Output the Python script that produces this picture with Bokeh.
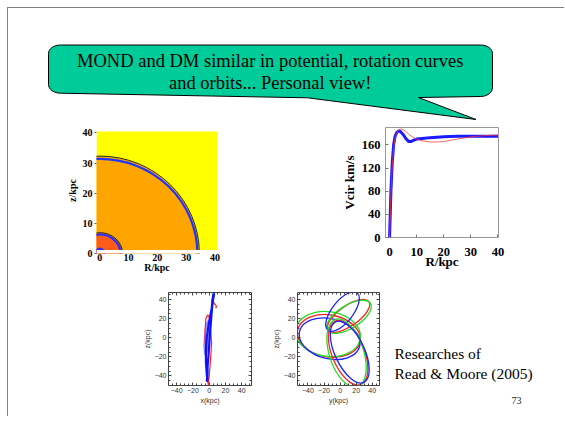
import numpy as np
from bokeh.plotting import figure
from bokeh.layouts import column, row
from bokeh.models import Spacer, LinearAxis, FixedTicker
from bokeh.embed import file_html
from bokeh.resources import INLINE
from bokeh.core.properties import value

SERIF = "Liberation Serif"
SANS = "Liberation Sans"

# ---------------- texts ----------------
title_lines = ["MOND and DM similar in potential, rotation curves",
               "and orbits... Personal view!"]
credit_lines = ["Researches of", "Read & Moore (2005)"]
page_label = "73"

# ---------------- panel 1: potential contours (R, z in kpc) ----------------
pot_ticks = [0, 10, 20, 30, 40]
pot_xlim = (-1.15, 40.9)
pot_ylim = (0.0, 41.78)              # view range (top part above the map stays white)
pot_map_top = 40.45                  # top of the coloured map
pot_floor = 1.2                      # white strip below the map
region_a = [34.5, 7.9, 1.9]          # semi-axis along R
region_b = [32.2, 6.8, 1.9]          # semi-axis along z
region_colors = ["#FFA500", "#FF5C1A", "#FF5C1A"]
blue_a = [33.9, 7.2, 1.6]
blue_b = [31.4, 6.3, 1.6]
black_a = [34.6, 7.9]
black_b = [32.3, 6.9]

# ---------------- panel 2: rotation curves ----------------
rc_xticks = [0, 10, 20, 30, 40]
rc_yticks = [0, 40, 80, 120, 160]
rc_r_blue = [0, 0.5, 1, 1.5, 2, 2.5, 3, 3.5, 4, 5, 6, 7, 8, 9, 10, 12, 15, 20, 25, 30, 35, 40]
rc_v_blue = [0, 80, 130, 160, 174, 180, 183, 184, 183, 178, 171, 166, 166, 168, 170, 171, 172.5, 174, 175, 175, 175, 175]
rc_r_red = [0, 0.5, 1, 1.5, 2, 2.5, 3, 3.5, 4, 4.5, 5, 6, 7, 8, 9, 10, 12, 15, 18, 20, 25, 30, 35, 40]
rc_v_red = [0, 75, 125, 155, 170, 178, 183, 186, 187, 187, 186, 183, 179, 175, 172, 170, 167, 165, 165, 166, 170, 174, 176, 177]

# ---------------- panel 3: x-z orbits ----------------
orb_ticks = [-40, -20, 0, 20, 40]
orb_minor = list(range(-50, 55, 5))
xz_blue = [([-2, -3, -4, -4, -3, -1, 1, 3, 4, 5, 6], [-46, -38, -25, -12, 0, 12, 22, 30, 38, 44, 48]),
           ([6, 4, 3, 2, 1, 0, -1, -2, -2, -3], [46, 36, 26, 15, 4, -8, -20, -30, -38, -46])]
xz_lightblue = [([-5, -6, -5, -3, -1, 0, -1, -3, -5], [-18, -8, 4, 14, 18, 10, -2, -14, -18])]
xz_red = [([-1, -2, -3, -4, -5, -5, -4, -2, 0, 1, 2, 3, 2, 1, 0, -1],
           [-50, -40, -28, -15, -2, 10, 20, 24, 22, 15, 5, -5, -18, -30, -40, -48]),
          ([5, 7, 9, 8], [38, 35, 33, 31])]
xz_green = [([3, 4, 5], [38, 43, 47]), ([-3, -2, -1], [-34, -42, -48])]

# ---------------- panel 4: y-z rosette lobes (ellipses) ----------------
#            left lobe (r, g, b)   upper lobe (r, g, b)   lower lobe (r, g, b)
ros_x = [-14, -15, -13, 10.5, 11, 3, 10, 8, 12]
ros_y = [2, 4, -1, 23, 22, 27.5, -15.7, -16, -15]
ros_w = [79, 81, 77, 62, 63, 59, 85, 88, 83]
ros_h = [44, 47, 42, 21, 24, 22, 34, 36, 31]
ros_angle = [-10, -8, -14, 35, 32, 52, -68, -72, -65]
ros_color = ["#FF2020", "#20DD20", "#2020FF"] * 3


def clean(p):
    p.grid.visible = False
    p.background_fill_color = "white"
    p.border_fill_color = "white"


# ---------------- top: callout (page pixel coordinates) ----------------
TOP_W, TOP_H = 556, 115
top = figure(frame_width=TOP_W, frame_height=TOP_H, x_range=(8, 8 + TOP_W), y_range=(8 + TOP_H, 8),
             x_axis_location=None, y_axis_location=None, min_border=0,
             output_backend="svg", toolbar_location=None)
clean(top)
top.outline_line_color = None


def arc(cx, cy, rx, ry, a0, a1, n=9):
    t = np.radians(np.linspace(a0, a1, n))
    return list(cx + rx * np.cos(t)), list(cy + ry * np.sin(t))


bx, by = [], []
for seg in [arc(60, 53, 12, 8.5, 180, 270), ([480], [44.5]), arc(480, 53, 12, 8.5, 270, 360),
            ([492], [87]), arc(480, 87, 12, 9, 0, 90), ([418, 475.5, 307], [97, 119, 97.3]),
            arc(60, 84, 12, 8.7, 90, 180)]:
    bx += list(seg[0]); by += list(seg[1])
top.patch(bx, by, fill_color="#00CC99", line_color="black", line_width=1)
top.text(x=[269.7, 269.7], y=[60, 82.7], text=title_lines, text_font=value(SERIF),
         text_font_size="18.5px", text_align="center", text_baseline="middle", text_color="black")

# ---------------- panel 1 ----------------
p1 = figure(frame_width=121, frame_height=126, x_range=pot_xlim, y_range=pot_ylim,
            min_border_left=38, min_border_right=13, min_border_top=4, min_border_bottom=27,
            output_backend="svg", toolbar_location=None, align="start")
clean(p1)
p1.outline_line_color = None
p1.quad(left=[pot_xlim[0]], right=[pot_xlim[1]], bottom=[pot_floor], top=[pot_map_top],
        fill_color="#FFFF00", line_color=None)
p1.ellipse(x=0, y=0, width=[2 * a for a in region_a], height=[2 * b for b in region_b],
           fill_color=region_colors, line_color=None)
p1.ellipse(x=0, y=0, width=[2 * a for a in black_a], height=[2 * b for b in black_b],
           fill_color=None, line_color="#222222", line_width=1)
p1.ellipse(x=0, y=0, width=[2 * a for a in blue_a], height=[2 * b for b in blue_b],
           fill_color=None, line_color="#1F35FF", line_width=2.2)
p1.quad(left=[pot_xlim[0]], right=[pot_xlim[1]], bottom=[pot_ylim[0]], top=[pot_floor],
        fill_color="white", line_color=None)
p1.xaxis.axis_label = "R/kpc"
p1.yaxis.axis_label = "z/kpc"
for ax in p1.axis:
    ax.ticker = FixedTicker(ticks=pot_ticks)
    ax.axis_line_color = None
    ax.major_tick_line_color = "#666666"
    ax.major_tick_in = 0
    ax.major_tick_out = 2
    ax.minor_tick_line_color = None
    ax.major_label_text_font = SERIF
    ax.major_label_text_font_style = "bold"
    ax.major_label_text_font_size = "10px"
    ax.major_label_text_color = "black"
    ax.axis_label_text_font = SERIF
    ax.axis_label_text_font_style = "bold"
    ax.axis_label_text_font_size = "10px"
    ax.axis_label_text_color = "black"
    ax.major_label_standoff = 2
    ax.axis_label_standoff = 2
p1.xaxis.major_tick_out = 0
p1.xaxis.major_label_standoff = 0
p1.xaxis.axis_label_standoff = -2

# ---------------- panel 2 ----------------
p2 = figure(frame_width=113, frame_height=110, x_range=(-1.5, 40.2), y_range=(0, 190),
            min_border_left=55, min_border_right=12, min_border_top=4, min_border_bottom=43,
            output_backend="svg", toolbar_location=None, align="start")
clean(p2)
p2.outline_line_color = "#999999"
p2.line(rc_r_blue, rc_v_blue, line_color="#1A1AFF", line_width=3)
p2.line(rc_r_red, rc_v_red, line_color="#FF3030", line_alpha=0.75, line_width=1)
p2.xaxis.axis_label = "R/kpc"
p2.yaxis.axis_label = "Vcir km/s"
p2.xaxis.ticker = FixedTicker(ticks=rc_xticks)
p2.yaxis.ticker = FixedTicker(ticks=rc_yticks)
for ax in p2.axis:
    ax.axis_line_color = None
    ax.major_tick_line_color = "#777777"
    ax.major_tick_in = 3
    ax.major_tick_out = 0
    ax.minor_tick_line_color = None
    ax.major_label_text_font = SERIF
    ax.major_label_text_font_style = "bold"
    ax.major_label_text_font_size = "12.5px"
    ax.major_label_text_color = "black"
    ax.axis_label_text_font = SERIF
    ax.axis_label_text_font_style = "bold"
    ax.axis_label_text_font_size = "13px"
    ax.axis_label_text_color = "black"
    ax.major_label_standoff = 5
    ax.axis_label_standoff = 2
p2.xaxis.major_label_standoff = 10
p2.xaxis.axis_label_standoff = -5


# ---------------- panels 3 and 4 ----------------
def orbit_fig(xr, frame_w, border_left, border_right, xlabel):
    p = figure(frame_width=frame_w, frame_height=93, x_range=xr, y_range=(-50, 47.5),
               min_border_left=border_left, min_border_right=border_right, min_border_top=12,
               min_border_bottom=31, output_backend="svg", toolbar_location=None, align="start")
    clean(p)
    p.outline_line_color = "#444444"
    p.xaxis.axis_label = xlabel
    p.yaxis.axis_label = "z(kpc)"
    for loc in ("above", "right"):
        p.add_layout(LinearAxis(), loc)
    for ax in p.axis:
        ax.ticker = FixedTicker(ticks=orb_ticks, minor_ticks=orb_minor)
        ax.axis_line_color = None
        ax.major_tick_line_color = "#444444"
        ax.minor_tick_line_color = "#444444"
        ax.major_tick_in = 3
        ax.major_tick_out = 0
        ax.minor_tick_in = 2
        ax.minor_tick_out = 0
        ax.major_label_text_font = SANS
        ax.major_label_text_font_size = "7px"
        ax.major_label_text_color = "#333333"
        ax.axis_label_text_font = SANS
        ax.axis_label_text_font_style = "normal"
        ax.axis_label_text_font_size = "7px"
        ax.axis_label_text_color = "#333333"
        ax.major_label_standoff = 2
        ax.axis_label_standoff = 1
    p.xaxis[0].axis_label_standoff = -1
    for ax in p.above + p.right:
        ax.major_label_overrides = {t: "" for t in orb_ticks}
        ax.major_label_text_font_size = "1px"
        ax.major_label_standoff = 0
    return p


p3 = orbit_fig((-50, 52), 83, 28, 7, "x(kpc)")
for xs, ys in xz_lightblue:
    p3.line(xs, ys, line_color="#8F8FFF", line_width=2)
for xs, ys in xz_green:
    p3.line(xs, ys, line_color="#20CC20", line_width=1.2)
for xs, ys in xz_red:
    p3.line(xs, ys, line_color="#FF2020", line_width=1.2)
for xs, ys in xz_blue:
    p3.line(xs, ys, line_color="#1010FF", line_width=2.2)

p4 = orbit_fig((-53, 49), 82, 29, 11, "y(kpc)")
p4.ellipse(x=ros_x, y=ros_y, width=ros_w, height=ros_h, angle=ros_angle, angle_units="deg",
           fill_color=None, line_color=ros_color, line_width=1.3)

# ---------------- credit text (page pixel coordinates; frame 292..416) ----------------
tx = figure(frame_width=167, frame_height=124, x_range=(390, 557), y_range=(416, 292),
            x_axis_location=None, y_axis_location=None, min_border=0, min_border_top=12,
            output_backend="svg", toolbar_location=None, align="start")
clean(tx)
tx.outline_line_color = None
tx.text(x=[394, 394], y=[352.7, 372.7], text=credit_lines, text_font=value(SERIF),
        text_font_size="15.5px", text_align="left", text_baseline="middle", text_color="black")
tx.text(x=[516], y=[400], text=[page_label], text_font=value(SERIF),
        text_font_size="10px", text_align="center", text_baseline="middle", text_color="#222222")

layout = column(
    top,
    row(Spacer(width=50, height=157), p1, Spacer(width=100, height=157), p2),
    row(Spacer(width=132, height=136), p3, Spacer(width=10, height=136), p4, tx),
    styles={"border-left": "1px solid #808080", "border-top": "1px solid #808080",
            "margin-left": "7px", "margin-top": "7px"},
)

open("out.html", "w").write(file_html(layout, INLINE))
